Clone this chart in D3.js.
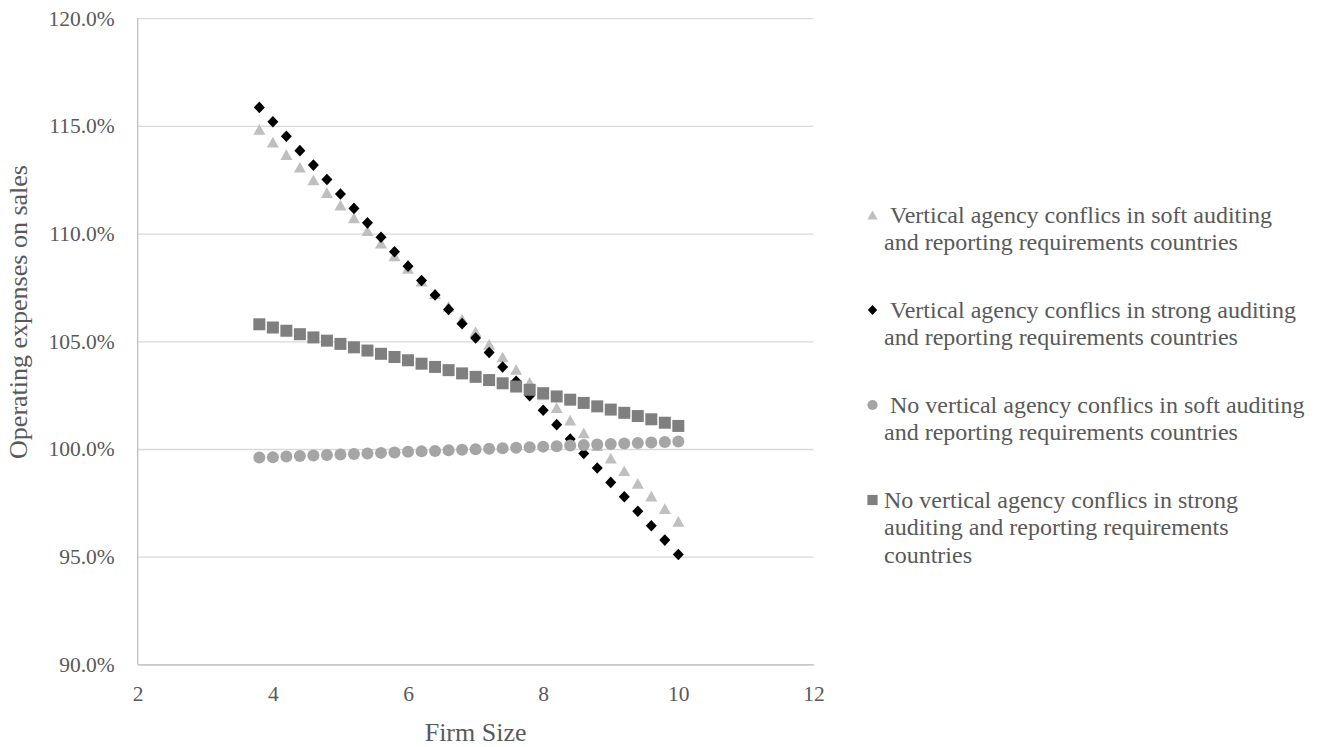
<!DOCTYPE html>
<html>
<head>
<meta charset="utf-8">
<script src="https://cdn.jsdelivr.net/npm/d3@7/dist/d3.min.js"></script>
<style>
  html, body { margin: 0; padding: 0; background: #ffffff; }
  svg { display: block; }
</style>
</head>
<body>
<svg id="chart" width="1324" height="747"></svg>
<script>
// ---------------- data ----------------
const firmSize = [3.8, 4.0, 4.2, 4.4, 4.6, 4.8, 5.0, 5.2, 5.4, 5.6, 5.8, 6.0, 6.2, 6.4, 6.6, 6.8,
                  7.0, 7.2, 7.4, 7.6, 7.8, 8.0, 8.2, 8.4, 8.6, 8.8, 9.0, 9.2, 9.4, 9.6, 9.8, 10.0];

const vacSoft = [114.84, 114.25, 113.67, 113.08, 112.49, 111.90, 111.32, 110.73, 110.14, 109.56, 108.97,
                 108.38, 107.79, 107.21, 106.62, 106.03, 105.45, 104.86, 104.27, 103.69, 103.10, 102.51,
                 101.92, 101.34, 100.75, 100.16, 99.58, 98.99, 98.40, 97.81, 97.23, 96.64];

const vacStrong = [115.86, 115.19, 114.52, 113.85, 113.18, 112.51, 111.84, 111.17, 110.50, 109.83, 109.16,
                   108.49, 107.82, 107.15, 106.48, 105.82, 105.15, 104.48, 103.81, 103.14, 102.47, 101.80,
                   101.13, 100.46, 99.79, 99.12, 98.45, 97.78, 97.11, 96.44, 95.77, 95.10];

const noVacSoft = [99.60, 99.62, 99.65, 99.67, 99.70, 99.72, 99.75, 99.77, 99.79, 99.82, 99.84,
                   99.87, 99.89, 99.91, 99.94, 99.96, 99.99, 100.01, 100.04, 100.06, 100.08, 100.11,
                   100.13, 100.16, 100.18, 100.21, 100.23, 100.25, 100.28, 100.30, 100.33, 100.35];

const noVacStrong = [105.79, 105.64, 105.49, 105.33, 105.18, 105.03, 104.88, 104.72, 104.57, 104.42, 104.27,
                     104.12, 103.96, 103.81, 103.66, 103.51, 103.35, 103.20, 103.05, 102.90, 102.75, 102.59,
                     102.44, 102.29, 102.14, 101.98, 101.83, 101.68, 101.53, 101.38, 101.22, 101.07];

const seriesNames = [
  ["Vertical agency conflics in soft auditing", "and reporting requirements countries"],
  ["Vertical agency conflics in strong auditing", "and reporting requirements countries"],
  ["No vertical agency conflics in soft auditing", "and reporting requirements countries"],
  ["No vertical agency conflics in strong", "auditing and reporting requirements", "countries"]
];
const seriesShapes = ["triangle", "diamond", "circle", "square"];
const seriesColors = ["#bfbfbf", "#000000", "#a5a5a5", "#7f7f7f"];
const seriesValues = [vacSoft, vacStrong, noVacSoft, noVacStrong];

const xTicks = [2, 4, 6, 8, 10, 12];
const yTicks = [90, 95, 100, 105, 110, 115, 120];
const xTitle = "Firm Size";
const yTitle = "Operating expenses on sales";

// ---------------- layout ----------------
const FONT = '"Liberation Serif", "Times New Roman", Times, serif';
const TEXT = "#595959";
const plot = { left: 137.7, right: 813.5, top: 18.2, bottom: 664.4 };

const svg = d3.select("#chart");
const x = d3.scaleLinear().domain([2, 12]).range([plot.left, plot.right]);
const y = d3.scaleLinear().domain([90, 120]).range([plot.bottom, plot.top]);

// gridlines + y axis labels
const yAxis = d3.axisLeft(y)
  .tickValues(yTicks)
  .tickSize(-(plot.right - plot.left))
  .tickPadding(23)
  .tickFormat(d => d.toFixed(1) + "%");
const gy = svg.append("g").attr("transform", `translate(${plot.left},0)`).call(yAxis);
gy.select(".domain").remove();
gy.selectAll(".tick line").attr("stroke", "#d9d9d9").attr("stroke-width", 1.3);
gy.selectAll(".tick text")
  .attr("fill", TEXT).attr("font-family", FONT).attr("font-size", 21.5)
  .attr("dy", "0.32em");

// x axis
const xAxis = d3.axisBottom(x).tickValues(xTicks).tickSize(0).tickPadding(21).tickFormat(d3.format("d"));
const gx = svg.append("g").attr("transform", `translate(0,${plot.bottom})`).call(xAxis);
gx.select(".domain").attr("stroke", "#bfbfbf").attr("stroke-width", 1.3);
gx.selectAll(".tick text")
  .attr("fill", TEXT).attr("font-family", FONT).attr("font-size", 21.5);

// left axis line
svg.append("line")
  .attr("x1", plot.left).attr("x2", plot.left)
  .attr("y1", plot.top).attr("y2", plot.bottom)
  .attr("stroke", "#bfbfbf").attr("stroke-width", 1.3);

// axis titles
svg.append("text")
  .attr("x", (plot.left + plot.right) / 2).attr("y", 741)
  .attr("text-anchor", "middle")
  .attr("fill", TEXT).attr("font-family", FONT).attr("font-size", 26)
  .text(xTitle);
svg.append("text")
  .attr("transform", "translate(27,312) rotate(-90)")
  .attr("text-anchor", "middle")
  .attr("fill", TEXT).attr("font-family", FONT).attr("font-size", 26)
  .text(yTitle);

// marker shapes (local coordinates around 0,0)
function shapePath(shape, s) {
  const p = d3.path();
  if (shape === "triangle") {
    const w = 12 * s, h = 10.7 * s;
    p.moveTo(0, -h / 2); p.lineTo(w / 2, h / 2); p.lineTo(-w / 2, h / 2); p.closePath();
  } else if (shape === "diamond") {
    const w = 5.5 * s, h = 5.8 * s;
    p.moveTo(0, -h); p.lineTo(w, 0); p.lineTo(0, h); p.lineTo(-w, 0); p.closePath();
  } else if (shape === "circle") {
    p.arc(0, 0, 6 * s, 0, 2 * Math.PI);
  } else {
    const a = 6 * s;
    p.rect(-a, -a, 2 * a, 2 * a);
  }
  return p.toString();
}

// series
seriesValues.forEach((vals, i) => {
  const pts = firmSize.map((fx, j) => ({ fx, v: vals[j] }));
  svg.append("g").selectAll("path")
    .data(pts).join("path")
    .attr("transform", d => `translate(${x(d.fx)},${y(d.v)})`)
    .attr("d", shapePath(seriesShapes[i], 1))
    .attr("fill", seriesColors[i]);
});

// legend
const legendTop = [215, 310, 405, 500];
const lineH = 27.5;
seriesNames.forEach((lines, i) => {
  const g = svg.append("g");
  g.append("path")
    .attr("transform", `translate(872.5,${legendTop[i]})`)
    .attr("d", shapePath(seriesShapes[i], 0.85))
    .attr("fill", seriesColors[i]);
  lines.forEach((ln, k) => {
    g.append("text")
      .attr("x", (k === 0 && i < 3) ? 890 : 884)
      .attr("y", legendTop[i] + k * lineH)
      .attr("dy", "0.32em")
      .attr("fill", TEXT).attr("font-family", FONT).attr("font-size", 24)
      .text(ln);
  });
});
</script>
</body>
</html>
